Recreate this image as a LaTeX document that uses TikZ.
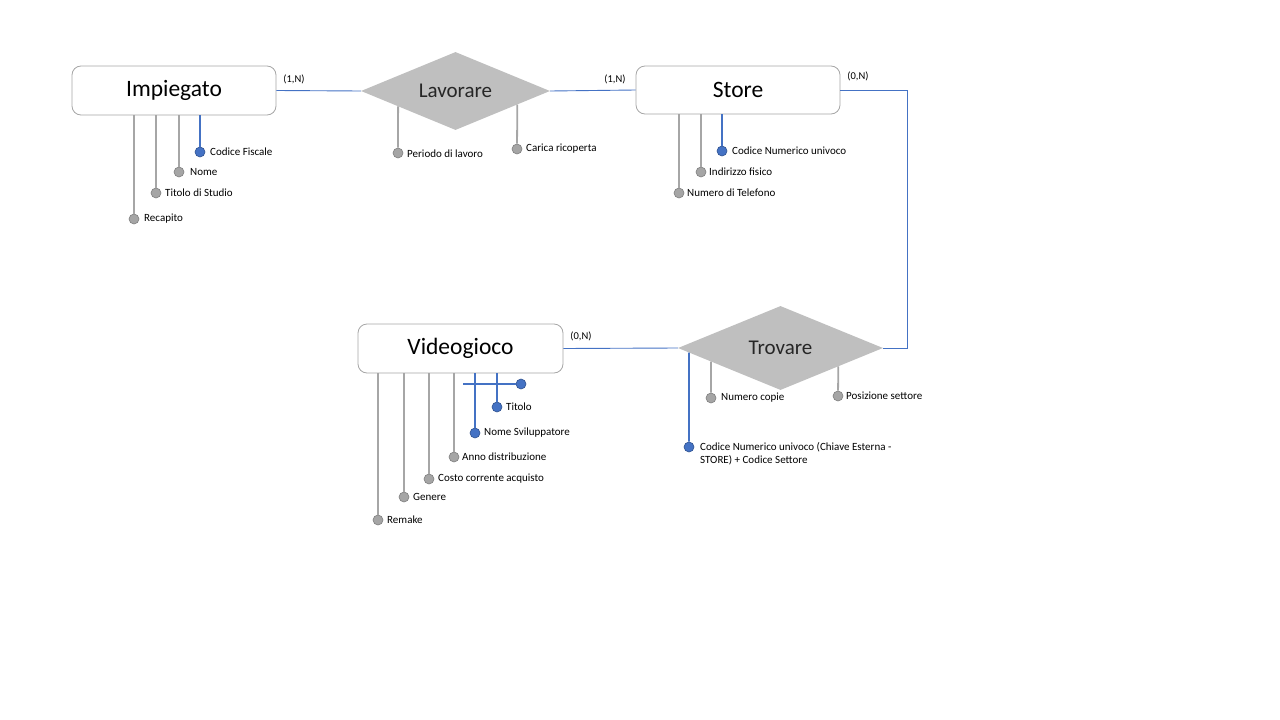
\documentclass[tikz,border=0pt]{standalone}
\usepackage{fontspec}
\setmainfont{Carlito}
\usetikzlibrary{shapes.geometric,calc}
\definecolor{gline}{HTML}{A6A6A6}
\definecolor{gfill}{HTML}{A5A5A5}
\definecolor{gedge}{HTML}{7F7F7F}
\definecolor{bline}{HTML}{4472C4}
\definecolor{bedge}{HTML}{2F528F}
\definecolor{rel}{HTML}{BFBFBF}
\definecolor{ebord}{HTML}{A6A6A6}
\definecolor{rtext}{HTML}{262626}
\tikzset{
  entity/.style={draw=ebord, line width=0.8pt, fill=white, rounded corners=9pt, inner sep=0pt, font=\fontsize{23.5}{26}\selectfont},
  relation/.style={diamond, fill=rel, draw=none, inner sep=0pt, text=rtext, font=\fontsize{21}{24}\selectfont},
  gdot/.style={circle, fill=gfill, draw=gedge, line width=0.6pt, minimum size=10pt, inner sep=0pt},
  bdot/.style={circle, fill=bline, draw=bedge, line width=0.6pt, minimum size=10pt, inner sep=0pt},
  atxt/.style={anchor=west, inner sep=0pt, font=\fontsize{11}{13}\selectfont},
  card/.style={inner sep=0pt, font=\fontsize{10.5}{12}\selectfont},
  gl/.style={draw=gline, line width=1.8pt},
  bl/.style={draw=bline, line width=1.8pt},
  conn/.style={draw=bline, line width=0.9pt},
}
\begin{document}
\begin{tikzpicture}[x=1pt,y=-1pt]
\useasboundingbox (0,0) rectangle (1280,720);
% entities
\node[entity, minimum width=204pt, minimum height=49pt] (imp) at (174,90.5) {Impiegato};
\node[entity, minimum width=204pt, minimum height=48pt] (sto) at (738,90) {Store};
\node[entity, minimum width=205pt, minimum height=49pt] (vid) at (460.5,348.5) {Videogioco};
% relations
\node[relation, shape aspect=2.42, minimum width=189pt, minimum height=78pt] (lav) at (455.5,91) {Lavorare};
\node[relation, shape aspect=2.44, minimum width=205pt, minimum height=84pt] (tro) at (780.5,348) {Trovare};
% connectors
\draw[conn] (imp.east) -- (lav.west);
\draw[conn] (lav.east) -- (sto.west);
\draw[conn] (sto.east) -- (907,90) |- (tro.east);
\draw[conn] (vid.east) -- (tro.west);
\node[card] (c1) at (294,79) {(1,N)};
\node[card] (c2) at (615,79) {(1,N)};
\node[card] (c3) at (858,76) {(0,N)};
\node[card] (c4) at (581,336) {(0,N)};
% Impiegato attributes
\node[bdot] (cf) at (200,152) {};
\node[gdot] (nom) at (179,172) {};
\node[gdot] (tds) at (156,193) {};
\node[gdot] (rec) at (134,219) {};
\draw[bl] (imp.south -| cf) -- (cf);
\draw[gl] (imp.south -| nom) -- (nom);
\draw[gl] (imp.south -| tds) -- (tds);
\draw[gl] (imp.south -| rec) -- (rec);
\node[atxt] (tcf) at (210,152) {Codice Fiscale};
\node[atxt] (tnom) at (190,172) {Nome};
\node[atxt] (ttds) at (165,193) {Titolo di Studio};
\node[atxt] (trec) at (144,219) {Recapito};
% Lavorare attributes
\node[gdot] (per) at (398,153) {};
\node[gdot] (car) at (517,149) {};
\draw[gl] ($(lav.west)!0.394!(lav.south)$) -- (per);
\draw[gl] ($(lav.south)!0.653!(lav.east)$) -- (car);
\node[atxt] (tper) at (407,154) {Periodo di lavoro};
\node[atxt] (tcar) at (526,149) {Carica ricoperta};
% Store attributes
\node[bdot] (cnu) at (722,151) {};
\node[gdot] (ind) at (701,172) {};
\node[gdot] (tel) at (679,193) {};
\draw[bl] (sto.south -| cnu) -- (cnu);
\draw[gl] (sto.south -| ind) -- (ind);
\draw[gl] (sto.south -| tel) -- (tel);
\node[atxt] (tcnu) at (732,151) {Codice Numerico univoco};
\node[atxt] (tind) at (709,172) {Indirizzo fisico};
\node[atxt] (ttel) at (687,193) {Numero di Telefono};
% Videogioco attributes
\coordinate (kst) at (463,384);
\node[bdot] (key) at (521,384) {};
\node[bdot] (tit) at (497,407) {};
\node[bdot] (nsv) at (475,433) {};
\node[gdot] (ann) at (454,457) {};
\node[gdot] (cos) at (429,479) {};
\node[gdot] (gen) at (404,497) {};
\node[gdot] (rem) at (378,520) {};
\draw[bl] (kst) -- (key);
\draw[bl] (vid.south -| tit) -- (tit);
\draw[bl] (vid.south -| nsv) -- (nsv);
\draw[gl] (vid.south -| ann) -- (ann);
\draw[gl] (vid.south -| cos) -- (cos);
\draw[gl] (vid.south -| gen) -- (gen);
\draw[gl] (vid.south -| rem) -- (rem);
\node[atxt] (ttit) at (506,407) {Titolo};
\node[atxt] (tnsv) at (484,433) {Nome Sviluppatore};
\node[atxt] (tann) at (462,457) {Anno distribuzione};
\node[atxt] (tcos) at (438,479) {Costo corrente acquisto};
\node[atxt] (tgen) at (413,497) {Genere};
\node[atxt] (trem) at (387,520) {Remake};
% Trovare attributes
\node[bdot] (ext) at (689,447) {};
\node[gdot] (nco) at (711,398) {};
\node[gdot] (pos) at (838,396) {};
\draw[bl] ($(tro.west)!0.108!(tro.south)$) -- (ext);
\draw[gl] ($(tro.west)!0.324!(tro.south)$) -- (nco);
\draw[gl] ($(tro.south)!0.563!(tro.east)$) -- (pos);
\node[atxt, align=left] (text) at (700,453.5) {Codice Numerico univoco (Chiave Esterna -\\STORE) + Codice Settore};
\node[atxt] (tnco) at (721,398) {Numero copie};
\node[atxt] (tpos) at (846,396) {Posizione settore};
\end{tikzpicture}
\end{document}
